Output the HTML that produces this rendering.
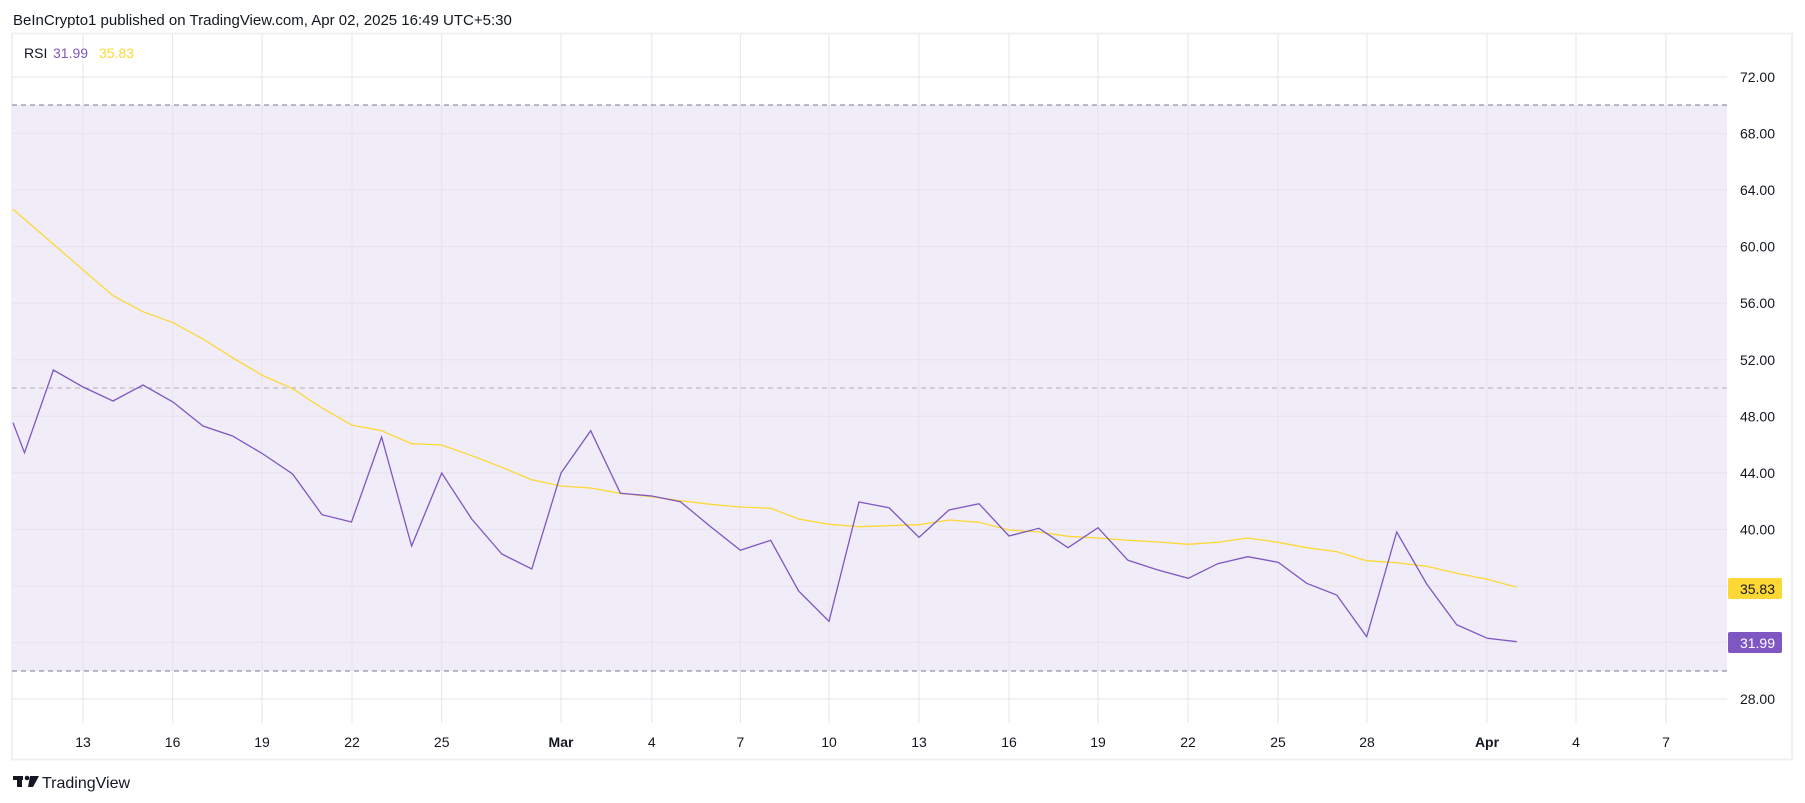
<!DOCTYPE html>
<html><head><meta charset="utf-8"><style>
html,body{margin:0;padding:0;background:#fff;}
svg{display:block;font-family:"Liberation Sans","DejaVu Sans",sans-serif;}
</style></head><body>
<svg width="1805" height="803" viewBox="0 0 1805 803" xmlns="http://www.w3.org/2000/svg">
<rect width="1805" height="803" fill="#fff"/>
<text x="13" y="25" font-size="15" fill="#131722">BeInCrypto1 published on TradingView.com, Apr 02, 2025 16:49 UTC+5:30</text>
<rect x="12" y="33.5" width="1780" height="726" fill="#fff" stroke="#f0f0f2" stroke-width="2"/>
<rect x="12" y="105" width="1715" height="566" fill="#f0ecf8"/>
<g stroke="#e6e3ec" stroke-width="1">
<line x1="12" x2="1727" y1="77" y2="77"/><line x1="12" x2="1727" y1="133.5" y2="133.5"/>
<line x1="12" x2="1727" y1="190" y2="190"/><line x1="12" x2="1727" y1="246.6" y2="246.6"/>
<line x1="12" x2="1727" y1="303.2" y2="303.2"/><line x1="12" x2="1727" y1="359.8" y2="359.8"/>
<line x1="12" x2="1727" y1="416.3" y2="416.3"/><line x1="12" x2="1727" y1="472.9" y2="472.9"/>
<line x1="12" x2="1727" y1="529.4" y2="529.4"/><line x1="12" x2="1727" y1="586" y2="586"/>
<line x1="12" x2="1727" y1="642.5" y2="642.5"/><line x1="12" x2="1727" y1="699" y2="699"/>
</g>
<g stroke="#e6e3ec" stroke-width="1">
<line y1="34" y2="723" x1="83" x2="83"/><line y1="34" y2="723" x1="172.6" x2="172.6"/>
<line y1="34" y2="723" x1="262" x2="262"/><line y1="34" y2="723" x1="352" x2="352"/>
<line y1="34" y2="723" x1="441.7" x2="441.7"/><line y1="34" y2="723" x1="561" x2="561"/>
<line y1="34" y2="723" x1="651.8" x2="651.8"/><line y1="34" y2="723" x1="740.4" x2="740.4"/>
<line y1="34" y2="723" x1="829" x2="829"/><line y1="34" y2="723" x1="919" x2="919"/>
<line y1="34" y2="723" x1="1009" x2="1009"/><line y1="34" y2="723" x1="1098" x2="1098"/>
<line y1="34" y2="723" x1="1188" x2="1188"/><line y1="34" y2="723" x1="1278" x2="1278"/>
<line y1="34" y2="723" x1="1367" x2="1367"/><line y1="34" y2="723" x1="1487" x2="1487"/>
<line y1="34" y2="723" x1="1576" x2="1576"/><line y1="34" y2="723" x1="1666" x2="1666"/>
</g>
<line x1="12" x2="1727" y1="105" y2="105" stroke="#787b86" stroke-dasharray="5,4" stroke-width="1"/>
<line x1="12" x2="1727" y1="388" y2="388" stroke="#b2b0b8" stroke-dasharray="5,4" stroke-width="1"/>
<line x1="12" x2="1727" y1="671" y2="671" stroke="#787b86" stroke-dasharray="5,4" stroke-width="1"/>
<polyline fill="none" stroke="#fdd835" stroke-width="1.3" points="13,209.3 113,295.7 143,311.7 173,322.7 203,339 232.5,357.7 263,375.7 292.6,388.7 322,408 351.5,425 381.6,430.7 411.6,443.7 441.7,445 471.7,455.7 501.8,467.3 531.8,479.7 561,486 590.7,488 620,493.3 651.8,496.7 680,500.7 710.7,504.3 740,507 770.7,508.3 798.6,519 829,524.3 859,526.7 889,525.7 919,524.7 949,520 979,522.3 1009,530 1039,532 1068,536.3 1098,538 1128,540.3 1158,542 1188,544.3 1217.7,542.3 1247.7,538 1278,542.3 1306.7,547.7 1336.7,551.7 1366.7,560.7 1396.7,562.7 1426.7,566.3 1456.7,573.3 1487.3,579.3 1516.7,587.3"/>
<polyline fill="none" stroke="#7e57c2" stroke-width="1.3" points="13,422.7 24.5,452.7 53.4,370 83,387 113,401 143,385 173,402 203,426 232.5,436 263,454 292.6,474 322,514.7 351.5,522 381.6,437 411.6,546 441.7,473 471.7,519 501.8,554 531.8,569 561,473 590.7,430.7 620.4,493.3 651.8,496 680.4,501.7 710.7,526.7 740.4,550.3 770.7,540.3 798.6,591 829,621.3 859,502 889,507.7 919,537.3 949,510 979,503.7 1009,536 1039,528.3 1068,547.7 1098,527.7 1128,560.3 1158,570 1188.3,578.3 1217.7,563.7 1247.7,556.7 1278.3,562.3 1306.7,583.3 1336.7,595 1366.7,636.7 1396.7,532 1426.7,584 1456.7,624.7 1487.3,638.3 1516.7,641.7"/>
<text x="24" y="58" font-size="14" fill="#131722">RSI</text>
<text x="53" y="58" font-size="14" fill="#7e57c2">31.99</text>
<text x="99" y="58" font-size="14" fill="#fdd835">35.83</text>
<g font-size="14" fill="#131722" text-anchor="end">
<text x="1775" y="82">72.00</text><text x="1775" y="138.5">68.00</text>
<text x="1775" y="195">64.00</text><text x="1775" y="251.6">60.00</text>
<text x="1775" y="308.2">56.00</text><text x="1775" y="364.8">52.00</text>
<text x="1775" y="421.3">48.00</text><text x="1775" y="477.9">44.00</text>
<text x="1775" y="534.4">40.00</text><text x="1775" y="704">28.00</text>
</g>
<rect x="1728" y="578" width="54" height="21" rx="2" fill="#fdd835"/>
<text x="1775" y="594" font-size="14" fill="#131722" text-anchor="end">35.83</text>
<rect x="1728" y="632" width="54" height="21" rx="2" fill="#7e57c2"/>
<text x="1775" y="648" font-size="14" fill="#fff" text-anchor="end">31.99</text>
<g font-size="14" fill="#131722" text-anchor="middle">
<text x="83" y="747">13</text><text x="172.6" y="747">16</text><text x="262" y="747">19</text>
<text x="352" y="747">22</text><text x="441.7" y="747">25</text><text x="561" y="747" font-weight="bold">Mar</text>
<text x="651.8" y="747">4</text><text x="740.4" y="747">7</text><text x="829" y="747">10</text>
<text x="919" y="747">13</text><text x="1009" y="747">16</text><text x="1098" y="747">19</text>
<text x="1188" y="747">22</text><text x="1278" y="747">25</text><text x="1367" y="747">28</text>
<text x="1487" y="747" font-weight="bold">Apr</text><text x="1576" y="747">4</text><text x="1666" y="747">7</text>
</g>
<g fill="#131722">
<rect x="13" y="776" width="10" height="4"/><rect x="17" y="776" width="5" height="11"/>
<circle cx="27" cy="778" r="2.3"/><polygon points="30,776 39,776 33,787 28,787"/>
</g>
<text x="42" y="788" font-size="16" fill="#131722">TradingView</text>
</svg>
</body></html>
